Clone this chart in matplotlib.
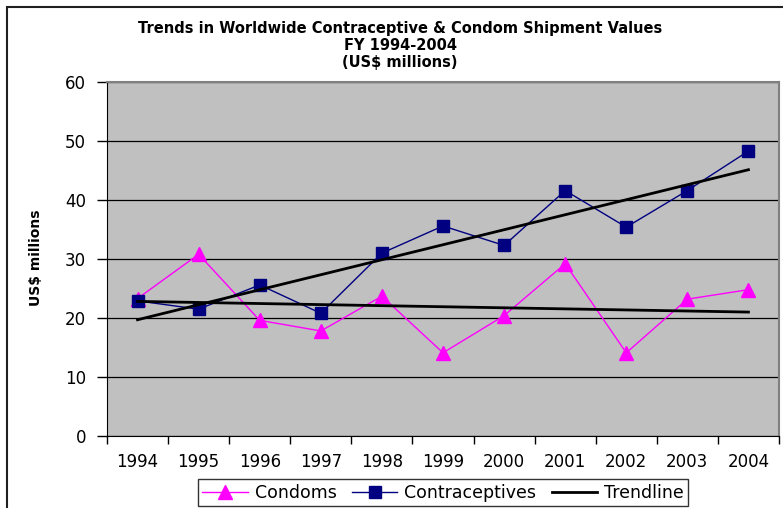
"""Worldwide contraceptive & condom shipment values, FY 1994-2004 (Excel-style line chart)."""
import matplotlib
matplotlib.use("Agg")
import matplotlib.pyplot as plt
from matplotlib.patches import Rectangle
import numpy as np

years = ["1994", "1995", "1996", "1997", "1998", "1999", "2000", "2001", "2002", "2003", "2004"]
condoms = [23.3, 30.8, 19.6, 17.8, 23.7, 14.1, 20.4, 29.2, 14.1, 23.2, 24.8]
contraceptives = [22.9, 21.5, 25.6, 20.8, 31.0, 35.6, 32.3, 41.6, 35.4, 41.6, 48.3]
yticks = [0, 10, 20, 30, 40, 50, 60]

plt.rcParams["font.family"] = ["DejaVu Sans"]

fig = plt.figure(figsize=(7.83, 5.08), dpi=100)
ax = fig.add_axes([107 / 783, 1 - 436 / 508, (779 - 107) / 783, (436 - 82) / 508])
ax.set_facecolor("#C0C0C0")

x = np.arange(len(years))
ax.plot(x, condoms, color="#FF00FF", lw=1, marker="^", ms=10, mec="#FF00FF", mfc="#FF00FF",
        label="Condoms", zorder=3)
ax.plot(x, contraceptives, color="#000080", lw=1, marker="s", ms=8, mec="#000080", mfc="#000080",
        label="Contraceptives", zorder=3)

# Excel-style linear trendlines over the category index
for series, lab in [(condoms, "Trendline"), (contraceptives, None)]:
    k, b = np.polyfit(x + 1, series, 1)
    ax.plot(x, k * (x + 1) + b, color="black", lw=2, label=lab, zorder=4)

ax.set_xlim(-0.5, len(years) - 0.5)
ax.set_ylim(0, 60)
ax.set_yticks(yticks)
ax.set_yticklabels([str(t) for t in yticks], fontsize=12)
ax.yaxis.grid(True, color="black", lw=0.9)
ax.set_axisbelow(True)
ax.tick_params(axis="y", direction="out", length=7, width=1, pad=8)

ax.set_xticks(x)
ax.set_xticklabels(years, fontsize=12)
ax.set_xticks(np.arange(-0.5, len(years)), minor=True)
ax.tick_params(axis="x", which="major", length=0, pad=12)
ax.tick_params(axis="x", which="minor", direction="out", length=6, width=1)

for side in ("top", "right"):
    ax.spines[side].set_color("#808080")
    ax.spines[side].set_linewidth(1.5)
ax.spines["left"].set_color("black")
ax.spines["bottom"].set_color("black")

fig.text(36 / 783, 1 - 258 / 508, "US$ millions", rotation=90, ha="center", va="center",
         fontsize=10, fontweight="bold")

fig.text(0.511, 1 - 28 / 508, "Trends in Worldwide Contraceptive & Condom Shipment Values",
         ha="center", va="center", fontsize=10.5, fontweight="bold")
fig.text(0.511, 1 - 45 / 508, "FY 1994-2004", ha="center", va="center", fontsize=10.5, fontweight="bold")
fig.text(0.511, 1 - 62 / 508, "(US$ millions)", ha="center", va="center", fontsize=10.5, fontweight="bold")

leg = fig.legend(loc="lower center", bbox_to_anchor=(443 / 783, 2 / 508), ncol=3, fontsize=12.5,
                 frameon=True, fancybox=False, edgecolor="black", handlelength=2.6,
                 columnspacing=0.9, handletextpad=0.4, borderpad=0.25, borderaxespad=0)
leg.get_frame().set_linewidth(1)

fig.patches.append(Rectangle((7 / 783, -0.1), 2, 1.1 - 7 / 508, transform=fig.transFigure,
                             fill=False, edgecolor="#202020", lw=1.5))

fig.savefig("out.png", dpi=100)
